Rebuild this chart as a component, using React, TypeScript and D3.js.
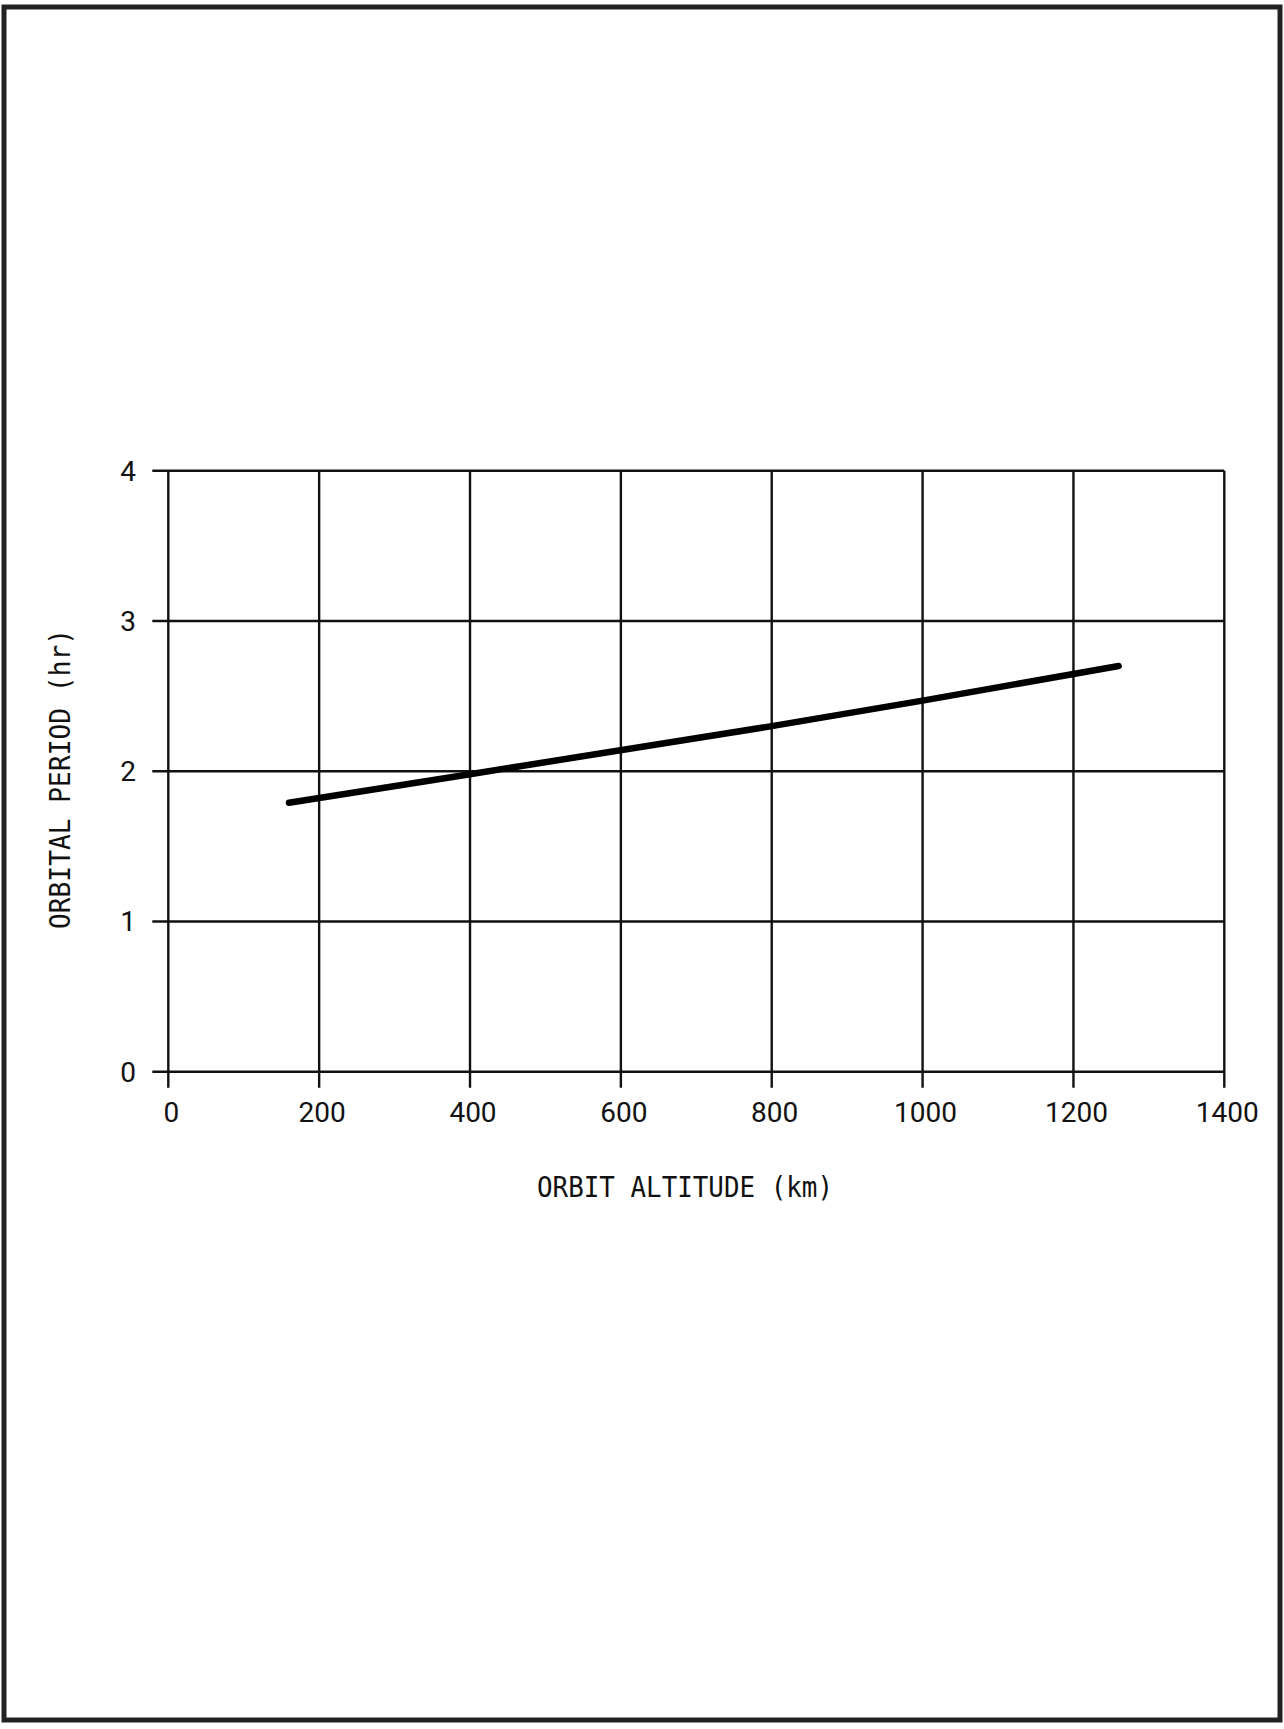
import React, { useEffect, useRef } from 'react'
import * as d3 from 'd3'

/* data */
const altitudeKm = [160, 400, 800, 1000, 1260]
const periodHr = [1.79, 1.98, 2.3, 2.47, 2.7]
const xTicks = [0, 200, 400, 600, 800, 1000, 1200, 1400]
const yTicks = [0, 1, 2, 3, 4]
const xTitle = 'ORBIT ALTITUDE (km)'
const yTitle = 'ORBITAL PERIOD (hr)'

const W = 1284
const H = 1729
const FONT = '"DejaVu Sans Mono", monospace'
const NUM_FONT = 'Roboto, "DejaVu Sans", sans-serif'

const App = () => {
  const ref = useRef<SVGSVGElement>(null)

  useEffect(() => {
    const svg = d3.select(ref.current)
    svg.selectAll('*').remove()

    /* page frame */
    svg.append('rect')
      .attr('x', 4).attr('y', 7)
      .attr('width', 1276).attr('height', 1713)
      .attr('fill', 'none')
      .attr('stroke', '#222')
      .attr('stroke-width', 5)

    const x = d3.scaleLinear().domain([0, 1400]).range([168.3, 1224.3])
    const y = d3.scaleLinear().domain([0, 4]).range([1071.7, 470.7])

    const grid = svg.append('g').attr('stroke', '#111').attr('stroke-width', 2.4)

    /* vertical grid lines, with ticks below the axis */
    grid.selectAll('.vx')
      .data(xTicks)
      .enter()
      .append('line')
      .attr('x1', (d) => x(d)).attr('x2', (d) => x(d))
      .attr('y1', y(4)).attr('y2', y(0) + 16)

    /* horizontal grid lines, with ticks left of the axis */
    grid.selectAll('.hy')
      .data(yTicks)
      .enter()
      .append('line')
      .attr('x1', x(0) - 16).attr('x2', x(1400))
      .attr('y1', (d) => y(d)).attr('y2', (d) => y(d))

    /* tick labels */
    svg.append('g').selectAll('text')
      .data(xTicks)
      .enter()
      .append('text')
      .attr('x', (d) => x(d) + 3)
      .attr('y', 1122)
      .attr('text-anchor', 'middle')
      .attr('font-family', NUM_FONT)
      .attr('font-size', 28)
      .attr('fill', '#111')
      .text((d) => d)

    svg.append('g').selectAll('text')
      .data(yTicks)
      .enter()
      .append('text')
      .attr('x', 128)
      .attr('y', (d) => y(d) + 10)
      .attr('text-anchor', 'middle')
      .attr('font-family', NUM_FONT)
      .attr('font-size', 28)
      .attr('fill', '#111')
      .text((d) => d)

    /* axis titles */
    svg.append('text')
      .attr('x', 537).attr('y', 1197)
      .attr('font-family', FONT)
      .attr('font-size', 29)
      .attr('textLength', 296)
      .attr('lengthAdjust', 'spacingAndGlyphs')
      .attr('fill', '#111')
      .text(xTitle)

    svg.append('text')
      .attr('transform', 'translate(70,929) rotate(-90)')
      .attr('font-family', FONT)
      .attr('font-size', 28)
      .attr('textLength', 300)
      .attr('lengthAdjust', 'spacingAndGlyphs')
      .attr('fill', '#111')
      .text(yTitle)

    /* the curve */
    const line = d3.line<number>()
      .x((d) => x(d))
      .y((_, i) => y(periodHr[i]))

    svg.append('path')
      .attr('d', line(altitudeKm))
      .attr('fill', 'none')
      .attr('stroke', '#000')
      .attr('stroke-width', 6.5)
      .attr('stroke-linecap', 'round')
  }, [])

  return (
    <svg
      ref={ref}
      width={W}
      height={H}
      viewBox={`0 0 ${W} ${H}`}
      style={{ position: 'absolute', left: 0, top: 0, background: '#fff' }}
    />
  )
}

export default App
